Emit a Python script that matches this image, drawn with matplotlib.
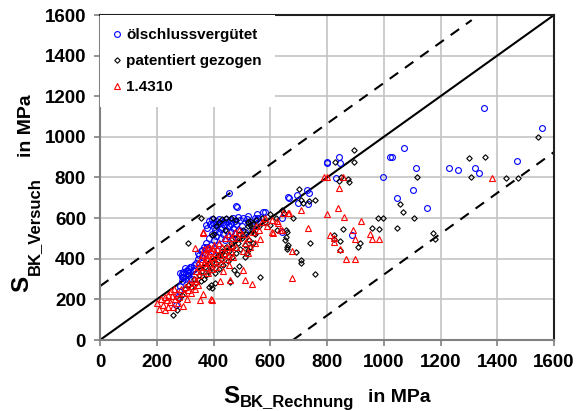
import numpy as np
import matplotlib
matplotlib.use('Agg')
import matplotlib.pyplot as plt
from matplotlib.transforms import IdentityTransform

plt.rcParams['font.family'] = ['Liberation Sans', 'DejaVu Sans']
plt.rcParams['font.weight'] = 'bold'

# ── Data (S_BK_Rechnung, S_BK_Versuch) in MPa ─────────────────────────────
oel = [  # ölschlussvergütet
    (268, 170), (275, 210), (280, 240), (283, 265), (288, 290), (292, 310), (296, 330),
    (300, 300), (305, 340), (310, 320), (312, 350), (318, 335), (322, 360), (328, 345),
    (333, 370), (338, 380), (300, 355), (290, 325), (315, 300), (325, 300), (282, 328),
    (294, 336), (306, 345), (288, 312), (317, 361), (346, 430), (360, 445), (378, 458),
    (399, 440), (345, 400), (350, 420), (355, 440), (360, 410), (365, 460), (370, 430),
    (375, 480), (380, 450), (385, 500), (390, 470), (395, 520), (400, 490), (405, 540),
    (410, 510), (415, 470), (420, 530), (425, 500), (430, 550), (435, 520), (440, 490),
    (445, 540), (450, 510), (455, 560), (460, 530), (465, 500), (470, 550), (475, 520),
    (480, 570), (490, 540), (500, 560), (510, 530), (520, 580), (535, 560), (550, 590),
    (372, 568), (378, 552), (383, 584), (388, 571), (393, 596), (398, 577), (403, 558),
    (408, 586), (413, 569), (418, 594), (423, 575), (428, 548), (433, 583), (438, 566),
    (443, 597), (448, 579), (453, 561), (458, 590), (463, 573), (470, 603), (476, 585),
    (485, 606), (495, 590), (505, 600), (521, 612), (519, 596), (553, 619), (576, 628),
    (582, 632), (558, 599), (545, 600), (456, 722), (478, 660), (482, 655), (662, 703),
    (640, 600), (640, 530), (667, 697), (694, 714), (697, 676), (729, 738), (738, 722),
    (732, 668), (799, 878), (801, 870), (844, 903), (846, 870), (832, 796), (887, 519),
    (997, 800), (1023, 900), (1030, 900), (1072, 947), (1046, 701), (1103, 738),
    (1114, 849), (1154, 652), (1229, 849), (1261, 837), (1321, 846), (1334, 824),
    (1471, 883), (1352, 1144), (1559, 1044),
]

pat = [  # patentiert gezogen
    (259, 123), (270, 150), (280, 200), (290, 220), (300, 250), (309, 479), (310, 270),
    (320, 260), (330, 300), (340, 280), (350, 320), (355, 290), (356, 599), (360, 340),
    (365, 300), (370, 360), (375, 320), (380, 380), (385, 340), (385, 260), (390, 270),
    (394, 254), (394, 517), (395, 360), (397, 599), (400, 400), (400, 520), (405, 330),
    (405, 279), (410, 380), (410, 560), (415, 420), (420, 350), (420, 580), (425, 400),
    (430, 440), (430, 595), (435, 370), (440, 420), (440, 540), (445, 460), (445, 600),
    (450, 390), (455, 440), (458, 287), (460, 480), (460, 600), (465, 410), (470, 460),
    (473, 345), (475, 500), (480, 430), (480, 590), (482, 323), (485, 480), (490, 520),
    (491, 364), (495, 450), (500, 500), (505, 540), (510, 470), (511, 410), (515, 520),
    (517, 427), (520, 560), (523, 443), (523, 582), (525, 490), (529, 456), (529, 566),
    (530, 587), (535, 542), (538, 476), (540, 570), (541, 525), (545, 520), (550, 590),
    (560, 560), (564, 312), (570, 600), (580, 580), (600, 566), (600, 620), (620, 600),
    (623, 542), (640, 640), (649, 624), (652, 492), (656, 509), (658, 533), (661, 468),
    (896, 935), (896, 875), (829, 875), (873, 793), (876, 776), (850, 801), (843, 784),
    (1117, 800), (1299, 898), (1356, 900), (1307, 800), (1430, 798), (1474, 798),
    (1543, 998), (703, 742), (758, 689), (738, 686), (710, 689), (715, 673), (680, 599),
    (655, 542), (741, 479), (658, 459), (658, 448), (708, 394), (708, 378), (756, 326),
    (691, 435), (856, 545), (825, 517), (825, 496), (846, 489), (846, 443), (915, 476),
    (909, 459), (978, 599), (997, 599), (960, 553), (982, 545), (1046, 550), (1058, 668),
    (1069, 629), (1108, 599), (1173, 525), (1181, 497),
]

niro = [  # 1.4310
    (200, 180), (207, 151), (215, 200), (222, 170), (228, 150), (235, 197), (241, 161),
    (248, 185), (253, 215), (259, 164), (265, 200), (270, 230), (275, 180), (280, 210),
    (285, 250), (292, 167), (295, 230), (300, 260), (305, 200), (310, 245), (315, 280),
    (320, 230), (325, 265), (330, 300), (335, 250), (340, 290), (350, 320), (353, 197),
    (362, 226), (390, 200), (394, 197), (345, 270), (260, 250), (250, 240), (240, 220),
    (230, 210), (340, 340), (345, 380), (350, 360), (355, 400), (358, 340), (360, 420),
    (365, 380), (368, 450), (372, 360), (375, 420), (378, 400), (380, 330), (383, 460),
    (386, 380), (390, 440), (393, 350), (396, 410), (400, 470), (403, 390), (406, 430),
    (410, 360), (413, 450), (416, 400), (420, 480), (423, 420), (426, 380), (430, 460),
    (433, 340), (436, 430), (440, 500), (443, 400), (446, 460), (450, 420), (453, 520),
    (456, 370), (460, 470), (463, 440), (466, 500), (470, 410), (475, 530), (480, 460),
    (485, 500), (490, 540), (423, 292), (458, 295), (511, 295), (535, 275), (505, 345),
    (564, 496), (362, 525), (364, 533), (335, 451), (376, 451), (394, 451), (380, 420),
    (370, 390), (500, 520), (510, 480), (520, 500), (530, 460), (540, 530), (550, 560),
    (560, 540), (570, 580), (580, 600), (590, 560), (605, 591), (629, 574), (605, 533),
    (635, 542), (646, 624), (664, 624), (611, 525), (623, 587), (520, 430), (545, 480),
    (505, 440), (708, 640), (667, 624), (799, 620), (838, 652), (861, 607), (920, 586),
    (732, 550), (811, 517), (823, 501), (823, 484), (893, 542), (900, 496), (846, 448),
    (866, 397), (900, 397), (952, 522), (960, 496), (984, 496), (676, 304), (640, 540),
    (675, 440), (791, 800), (799, 800), (856, 800), (844, 747), (1380, 798),
]

labels = ['ölschlussvergütet', 'patentiert gezogen', '1.4310']
diag = [0, 1600]
upper_band = ([0, 1310], [265, 1575])
lower_band = ([680, 1600], [0, 925])

oel = np.array(oel)
pat = np.array(pat)
niro = np.array(niro)

W, H = 577, 411
fig = plt.figure(figsize=(W / 100, H / 100), dpi=100)
ax = fig.add_axes([100 / W, 1 - 340 / H, 454 / W, 325 / H])

ax.plot(diag, diag, color='black', lw=1.5, zorder=2)
ax.plot(*upper_band, color='black', lw=1.5, ls=(0, (5, 4)), zorder=2)
ax.plot(*lower_band, color='black', lw=1.5, ls=(0, (5, 4)), zorder=2)

ax.plot(oel[:, 0], oel[:, 1], ls='none', marker='o', ms=4.2, mfc='none',
        mec='#0000ff', mew=0.8, label=labels[0], zorder=3)
ax.plot(pat[:, 0], pat[:, 1], ls='none', marker='D', ms=2.8, mfc='none',
        mec='black', mew=0.8, label=labels[1], zorder=3)
ax.plot(niro[:, 0], niro[:, 1], ls='none', marker='^', ms=5.0, mfc='none',
        mec='#ff0000', mew=0.8, label=labels[2], zorder=4)

ax.set_xlim(0, 1600)
ax.set_ylim(0, 1600)
ax.set_xticks(np.arange(0, 1601, 200))
ax.set_yticks(np.arange(0, 1601, 200))
ax.grid(True, color='#c4c4c4', lw=1.2, zorder=0)
ax.set_axisbelow(True)
ax.tick_params(direction='out', length=4, width=1.2, color='#808080',
               labelsize=13.5, pad=6)
for lab in ax.get_xticklabels() + ax.get_yticklabels():
    lab.set_fontweight('bold')
for s in ['left', 'bottom']:
    ax.spines[s].set_color('#808080')
    ax.spines[s].set_linewidth(1.5)
for s in ['top', 'right']:
    ax.spines[s].set_color('#202020')
    ax.spines[s].set_linewidth(1.5)

leg = ax.legend(loc='upper left', bbox_to_anchor=(0, 1), borderaxespad=0,
                frameon=True, facecolor='white', edgecolor='none', framealpha=1,
                fancybox=False, handlelength=0.5, handletextpad=0.35,
                labelspacing=0.8, borderpad=0.85,
                prop={'weight': 'bold', 'size': 11})
leg.set_zorder(5)

# ── axis labels built from pieces (big S, subscript, "in MPa") ────────────
fig.canvas.draw()
r = fig.canvas.get_renderer()
ident = IdentityTransform()
kw = dict(transform=ident, ha='left', va='baseline', fontweight='bold')

# x label
t = fig.text(223, 8, 'S', fontsize=17.5, **kw)
bb = t.get_window_extent(r)
fig.text(bb.x1 + 1, 4, 'BK_Rechnung', fontsize=12, **kw)
fig.text(368, 9, 'in MPa', fontsize=14, **kw)

# y label
kw_r = dict(kw, rotation=90, rotation_mode='anchor')
t = fig.text(28, 119, 'S', fontsize=17.5, **kw_r)
bb = t.get_window_extent(r)
fig.text(39, bb.y1 + 1, 'BK_Versuch', fontsize=12, **kw_r)
fig.text(31, 254, 'in MPa', fontsize=14, **kw_r)

fig.savefig('out.png', dpi=100)
